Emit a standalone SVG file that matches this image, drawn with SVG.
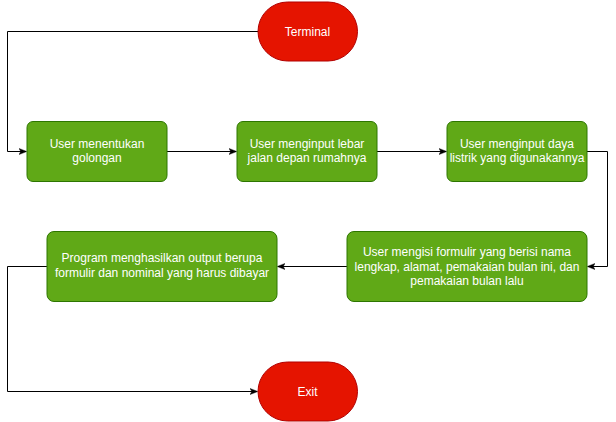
<svg xmlns="http://www.w3.org/2000/svg" width="616" height="422" viewBox="0 0 616 422">
<style>
.proc{fill:#60a917;stroke:#2d7600;stroke-width:1}
.term{fill:#e51400;stroke:#b20000;stroke-width:1}
.t{font-family:"Liberation Sans",Arial,sans-serif;font-size:12px;fill:#ffffff;text-anchor:middle}
.edge{fill:none;stroke:#000000;stroke-width:1;marker-end:url(#arr)}
</style>
<defs>
<marker id="arr" viewBox="0 0 10 10" refX="9" refY="5" markerWidth="8" markerHeight="8" markerUnits="userSpaceOnUse" orient="auto">
<path d="M0,1 L10,5 L0,9 L2.5,5 Z" fill="#000000" stroke="#000000" stroke-width="0.5"/>
</marker>
</defs>
<rect width="616" height="422" fill="#ffffff"/>
<g id="connectors">
<path class="edge" d="M258,31.5 H7.5 V151.5 H26"/>
<path class="edge" d="M167,151.5 H236"/>
<path class="edge" d="M377,151.5 H446"/>
<path class="edge" d="M587,151.5 H607.5 V266.5 H588"/>
<path class="edge" d="M347,266.5 H278"/>
<path class="edge" d="M47,266.5 H7.5 V391.5 H257"/>
</g>
<g id="terminal">
<rect class="term" x="258" y="2" width="99.5" height="59" rx="29.5" ry="29.5"/>
<text class="t" x="307.5" y="35.5">Terminal</text>
</g>
<g id="n1">
<rect class="proc" x="27" y="121.5" width="140" height="60" rx="6" ry="6"/>
<text class="t" x="97" y="147.5">User menentukan</text>
<text class="t" x="97" y="162">golongan</text>
</g>
<g id="n2">
<rect class="proc" x="237" y="121.5" width="140" height="60" rx="6" ry="6"/>
<text class="t" x="307" y="147.5">User menginput lebar</text>
<text class="t" x="307" y="162">jalan depan rumahnya</text>
</g>
<g id="n3">
<rect class="proc" x="447" y="121.5" width="140" height="60" rx="6" ry="6"/>
<text class="t" x="517" y="147.5">User menginput daya</text>
<text class="t" x="517" y="162">listrik yang digunakannya</text>
</g>
<g id="n4">
<rect class="proc" x="347" y="231.5" width="240" height="70" rx="7" ry="7"/>
<text class="t" x="467" y="255.5">User mengisi formulir yang berisi nama</text>
<text class="t" x="467" y="270.5">lengkap, alamat, pemakaian bulan ini, dan</text>
<text class="t" x="467" y="285">pemakaian bulan lalu</text>
</g>
<g id="n5">
<rect class="proc" x="47" y="231.5" width="230" height="70" rx="7" ry="7"/>
<text class="t" x="162" y="262">Program menghasilkan output berupa</text>
<text class="t" x="162" y="276.5">formulir dan nominal yang harus dibayar</text>
</g>
<g id="exit">
<rect class="term" x="258" y="362" width="99.5" height="59" rx="29.5" ry="29.5"/>
<text class="t" x="307.5" y="395.5">Exit</text>
</g>
</svg>
